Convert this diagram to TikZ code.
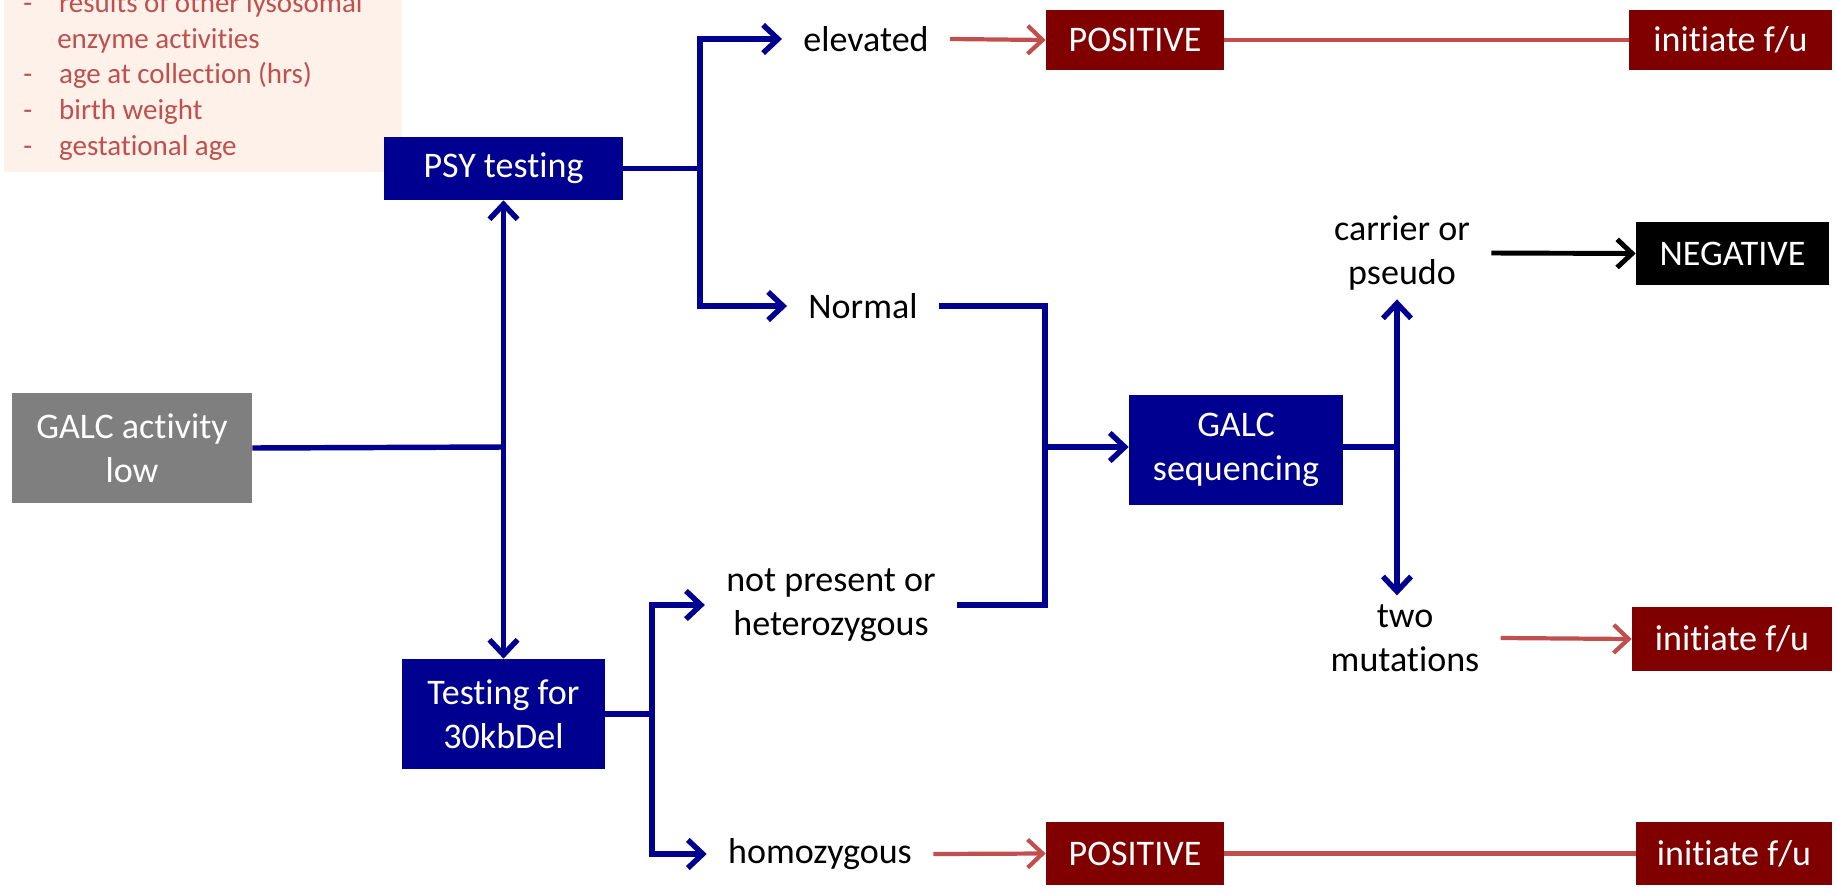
\documentclass[tikz,border=0pt]{standalone}
\usepackage{fontspec}
\setmainfont{Carlito}[Ligatures=NoCommon]
\usepackage{tikz}
\usetikzlibrary{positioning,arrows.meta}

\definecolor{navyblue}{RGB}{0,0,144}
\definecolor{darkred}{RGB}{128,0,0}
\definecolor{softred}{RGB}{192,80,77}
\definecolor{peach}{RGB}{253,241,234}
\definecolor{boxgray}{RGB}{127,127,127}

\begin{document}
\begin{tikzpicture}[
  x=0.02cm, y=-0.02cm,
  font=\fontsize{20.5}{25}\selectfont, >={Straight Barb[length=8.5pt,width=16pt]},
  startbox/.style={fill=boxgray, text=white, align=center, inner sep=0pt,
                   minimum width=4.8cm, minimum height=2.2cm},
  testbox/.style={fill=navyblue, text=white, align=center, inner sep=0pt},
  posbox/.style={fill=darkred, text=white, align=center, inner sep=0pt,
                 minimum height=1.2cm},
  negbox/.style={fill=black, text=white, align=center, inner sep=0pt,
                 minimum height=1.26cm},
  outcome/.style={align=center, inner xsep=12pt, inner ysep=5pt},
  barr/.style={draw=navyblue, line width=3.1pt},
  rarr/.style={draw=softred, line width=2.4pt},
  karr/.style={draw=black, line width=2.8pt},
]
\useasboundingbox (0,0) rectangle (1836,893);

\fill[peach] (4,0) rectangle (402,172);
\node[anchor=north west, align=left, inner sep=0pt, text=softred,
      font=\fontsize{16.5}{20.3}\selectfont] (notes) at (23,-8)
  {\makebox[20.4pt][l]{-}results of other lysosomal\\
   \makebox[19.3pt][l]{}enzyme activities\\
   \makebox[20.4pt][l]{-}age at collection (hrs)\\
   \makebox[20.4pt][l]{-}birth weight\\
   \makebox[20.4pt][l]{-}gestational age};

\node[startbox] (galc) at (132,448) {GALC activity\\low};
\node[testbox, minimum width=4.78cm, minimum height=1.26cm] (psy) at (503.5,168.5) {PSY testing};
\node[testbox, minimum width=4.06cm, minimum height=2.2cm] (ktest) at (503.5,714) {Testing for\\30kbDel};
\node[testbox, minimum width=4.28cm, minimum height=2.2cm] (gseq) at (1236,450) {GALC\\sequencing};

\node[outcome] (elev) at (866,39) {elevated};
\node[outcome] (norm) at (863,306) {Normal};
\node[outcome] (het) at (831,605) {not present or\\heterozygous};
\node[outcome] (homo) at (820,854) {homozygous};
\node[outcome] (carrier) at (1402,253) {carrier or\\pseudo};
\node[outcome] (two) at (1405,638) {two\\mutations};

\node[posbox, minimum width=3.56cm] (pos1) at (1135,40) {POSITIVE};
\node[posbox, minimum width=4.06cm] (fu1) at (1730.5,40) {initiate f/u};
\node[negbox, minimum width=3.86cm] (neg) at (1732.5,253.5) {NEGATIVE};
\node[posbox, minimum width=4cm, minimum height=1.28cm] (fu2) at (1732,639) {initiate f/u};
\node[posbox, minimum width=3.56cm, minimum height=1.26cm] (pos2) at (1135,853.5) {POSITIVE};
\node[posbox, minimum width=3.92cm, minimum height=1.26cm] (fu3) at (1734,853.5) {initiate f/u};

\draw[barr] (galc.east) -- (503.5,447) coordinate (j1);
\draw[barr,<->] (psy.south) -- (ktest.north);

\draw[barr] (psy.east) -- (700,168.5) coordinate (j2);
\draw[barr,->] (j2) |- (elev.west);
\draw[barr,->] (j2) |- (norm.west);

\draw[barr] (ktest.east) -- (652,714) coordinate (j3);
\draw[barr,->] (j3) |- (het.west);
\draw[barr,->] (j3) |- (homo.west);

\draw[barr] (norm.east) -| (1045,447) coordinate (j4);
\draw[barr] (het.east) -| (j4);
\draw[barr,->] (j4) -- (j4 -| gseq.west);

\draw[barr] (gseq.east |- j4) -- (1397,447) coordinate (j5);
\draw[barr,->] (j5) -- (j5 |- carrier.south);
\draw[barr,->] (j5) -- (j5 |- two.north);

\draw[rarr,->] (elev.east) -- (pos1.west);
\draw[rarr] (pos1.east) -- (fu1.west);
\draw[karr,->] (carrier.east) -- (neg.west);
\draw[rarr,->] (two.east) -- (fu2.west);
\draw[rarr,->] (homo.east) -- (pos2.west);
\draw[rarr] (pos2.east) -- (fu3.west);
\end{tikzpicture}
\end{document}
